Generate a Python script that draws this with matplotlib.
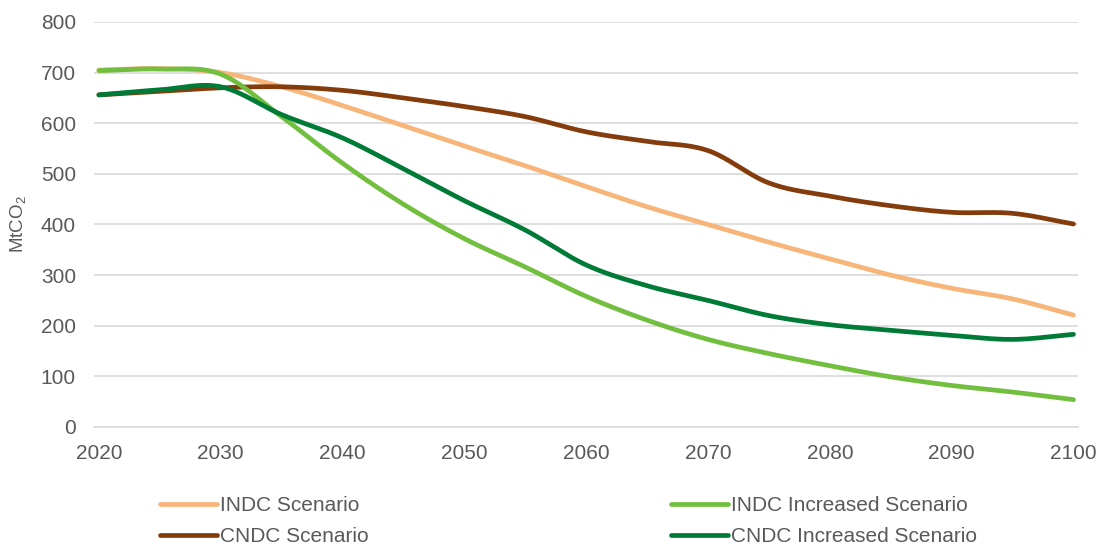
import matplotlib.pyplot as plt
import numpy as np

plt.rcParams['font.family'] = ['Liberation Sans', 'DejaVu Sans']
plt.rcParams['mathtext.fontset'] = 'custom'
plt.rcParams['mathtext.rm'] = 'Liberation Sans'
plt.rcParams['mathtext.it'] = 'Liberation Sans'

years = np.arange(2020, 2101, 5)

indc = [705, 708, 700, 672, 635, 595, 555, 516, 475, 435, 400, 365, 332, 300, 274, 253, 221]
indc_inc = [704, 707, 697, 613, 521, 440, 372, 316, 258, 211, 173, 145, 121, 99, 82, 69, 54]
cndc = [656, 663, 670, 672, 665, 650, 633, 613, 583, 564, 546, 482, 456, 437, 424, 422, 401]
cndc_inc = [656, 666, 672, 617, 571, 510, 447, 389, 320, 279, 250, 220, 202, 191, 181, 173, 183]

series_names = ['INDC Scenario', 'CNDC Scenario', 'INDC Increased Scenario', 'CNDC Increased Scenario']
series_values = [indc, cndc, indc_inc, cndc_inc]
colors = ['#F8B57A', '#843C0C', '#72BE3E', '#007A37']
y_ticks = list(range(0, 801, 100))
x_ticks = list(range(2020, 2101, 10))


def smooth(x, y, n=30):
    # Catmull-Rom curve through the points, like the spreadsheet "smoothed line"
    p = np.column_stack([x, y]).astype(float)
    p = np.vstack([2 * p[0] - p[1], p, 2 * p[-1] - p[-2]])
    out = []
    t = np.linspace(0, 1, n, endpoint=False)[:, None]
    for i in range(1, len(p) - 2):
        p0, p1, p2, p3 = p[i - 1], p[i], p[i + 1], p[i + 2]
        c1 = p1 + (p2 - p0) / 6
        c2 = p2 - (p3 - p1) / 6
        seg = ((1 - t) ** 3) * p1 + 3 * ((1 - t) ** 2) * t * c1 + 3 * (1 - t) * t ** 2 * c2 + t ** 3 * p2
        out.append(seg)
    out.append(p[-2][None, :])
    out = np.vstack(out)
    return out[:, 0], out[:, 1]


fig = plt.figure(figsize=(10.97, 5.47), dpi=100)
ax = fig.add_axes([0.0857, 0.2194, 0.8973, 0.7404])

# draw order: light orange, light green, brown, dark green
for idx in [0, 2, 1, 3]:
    sx, sy = smooth(years, series_values[idx])
    ax.plot(sx, sy, color=colors[idx], lw=3.4, solid_capstyle='round',
            label=series_names[idx], zorder=3 + idx)

ax.set_xlim(2019.6, 2100.4)
ax.set_ylim(0, 800)
ax.set_yticks(y_ticks)
ax.set_xticks(x_ticks)
ax.grid(axis='y', color='#D9D9D9', lw=1.2)
ax.set_axisbelow(True)
for s in ['top', 'right', 'left']:
    ax.spines[s].set_visible(False)
ax.spines['bottom'].set_color('#D9D9D9')
ax.spines['bottom'].set_linewidth(1.2)
ax.tick_params(axis='y', length=0, labelsize=15, labelcolor='#595959', pad=13)
ax.tick_params(axis='x', length=0, labelsize=15, labelcolor='#595959', pad=12)
ax.set_ylabel('MtCO$_2$', fontsize=13.5, color='#595959')
ax.yaxis.set_label_coords(-0.067, 0.5)

handles, labels = ax.get_legend_handles_labels()
order = [labels.index(n) for n in series_names]
leg = fig.legend([handles[i] for i in order], [labels[i] for i in order],
                 ncol=2, loc='upper left', bbox_to_anchor=(160 / 1097, 1 - 496 / 547),
                 frameon=False, fontsize=15, handlelength=2.74, handletextpad=0.15,
                 columnspacing=14.5, labelspacing=0.58, borderpad=0, borderaxespad=0)
for t in leg.get_texts():
    t.set_color('#595959')

plt.savefig('out.png', dpi=100)
